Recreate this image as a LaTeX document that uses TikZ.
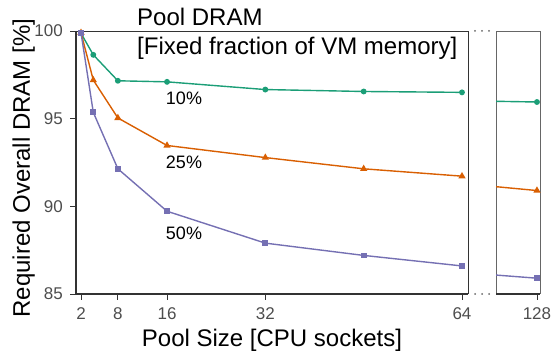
\documentclass[tikz,border=0pt]{standalone}
\usepackage{fontspec}
\setmainfont{Liberation Sans}
\usetikzlibrary{plotmarks}
\definecolor{dkgreen}{HTML}{1B9E77}
\definecolor{dkorange}{HTML}{D95F02}
\definecolor{dkpurple}{HTML}{7570B3}
\definecolor{ticklab}{HTML}{4D4D4D}
\definecolor{axline}{HTML}{333333}
\definecolor{frameline}{HTML}{666666}

\begin{document}
\begin{tikzpicture}[x=1pt,y=1pt,
	ticklabel/.style={text=ticklab,font=\fontsize{17}{17}\selectfont,inner sep=0pt},
	biglabel/.style={font=\fontsize{24}{24}\selectfont,inner sep=0pt},
	curvelabel/.style={font=\fontsize{18}{18}\selectfont,inner sep=0pt},
	curve/.style={line width=1.4pt}]
\useasboundingbox (0,0) rectangle (552,353);

	\draw[axline,line width=0.8pt] (76,322) -- (468,322) -- (468,59);
	\draw[frameline,line width=0.8pt] (496,59) -- (496,322) -- (540,322) -- (540,59);
	\draw[axline,line width=1.4pt] (76,322) -- (76,59) -- (468,59);
	\draw[axline,line width=1.4pt] (496,59) -- (540,59);
	
	\foreach \x in {475,482,489}
	{
		\fill[frameline] (\x,322) circle (1pt);
		\fill[frameline] (\x,59) circle (1pt);
	}

	\begin{scope}[shift={(68.71pt,-1431.3pt)}, x=6.145pt, y=17.533pt]
	\foreach \v in {85,90,95,100}
	{
		\draw[axline,line width=0.8pt] (1.186,\v) -- ++(-6pt,0) coordinate (yt\v);
		\node[ticklabel,anchor=east] (ylab\v) at ([xshift=-7pt]yt\v) {\v};
	}
	\foreach \d/\t in {2/2,8/8,16/16,32/32,64/64,76.2/128}
	{
		\draw[axline,line width=0.8pt] (\d,85) -- ++(0,-6pt) coordinate (xt\t);
		\node[ticklabel,anchor=north] (xlab\t) at ([yshift=-7pt]xt\t) {\t};
	}
	
	\draw[dkgreen,curve] plot[mark=*,mark size=2.2pt] coordinates
		{(2,99.87) (4,98.64) (8,97.16) (16,97.1) (32,96.66) (48,96.55) (64,96.5)};
	\draw[dkorange,curve] plot[mark=triangle*,mark size=2.8pt] coordinates
		{(2,99.9) (4,97.2) (8,95.04) (16,93.47) (32,92.78) (48,92.14) (64,91.72)};
	\draw[dkpurple,curve] plot[mark=square*,mark size=2.2pt] coordinates
		{(2,99.9) (4,95.36) (8,92.14) (16,89.72) (32,87.9) (48,87.2) (64,86.6)};
	
	\draw[dkgreen,curve] plot[mark=*,mark size=2.2pt,mark indices={2}] coordinates
		{(69.55,95.99) (76.2,95.95)};
	\draw[dkorange,curve] plot[mark=triangle*,mark size=2.8pt,mark indices={2}] coordinates
		{(69.55,91.12) (76.2,90.9)};
	\draw[dkpurple,curve] plot[mark=square*,mark size=2.2pt,mark indices={2}] coordinates
		{(69.55,86.08) (76.2,85.9)};
	\end{scope}

	\node[curvelabel] (lab10) at (184,255) {10\%};
	\node[curvelabel] (lab25) at (184,191) {25\%};
	\node[curvelabel] (lab50) at (184,120) {50\%};
	
	\node[biglabel,anchor=base west] (title) at (137,327) {Pool DRAM};
	\node[biglabel,anchor=base west] (subtitle) at (137,298) {[Fixed fraction of VM memory]};
	\node[biglabel,anchor=base] (xtitle) at (272,6) {Pool Size [CPU sockets]};
	\node[biglabel,anchor=base,rotate=90] (ytitle) at (30,185) {Required Overall DRAM [\%]};
\end{tikzpicture}
\end{document}
